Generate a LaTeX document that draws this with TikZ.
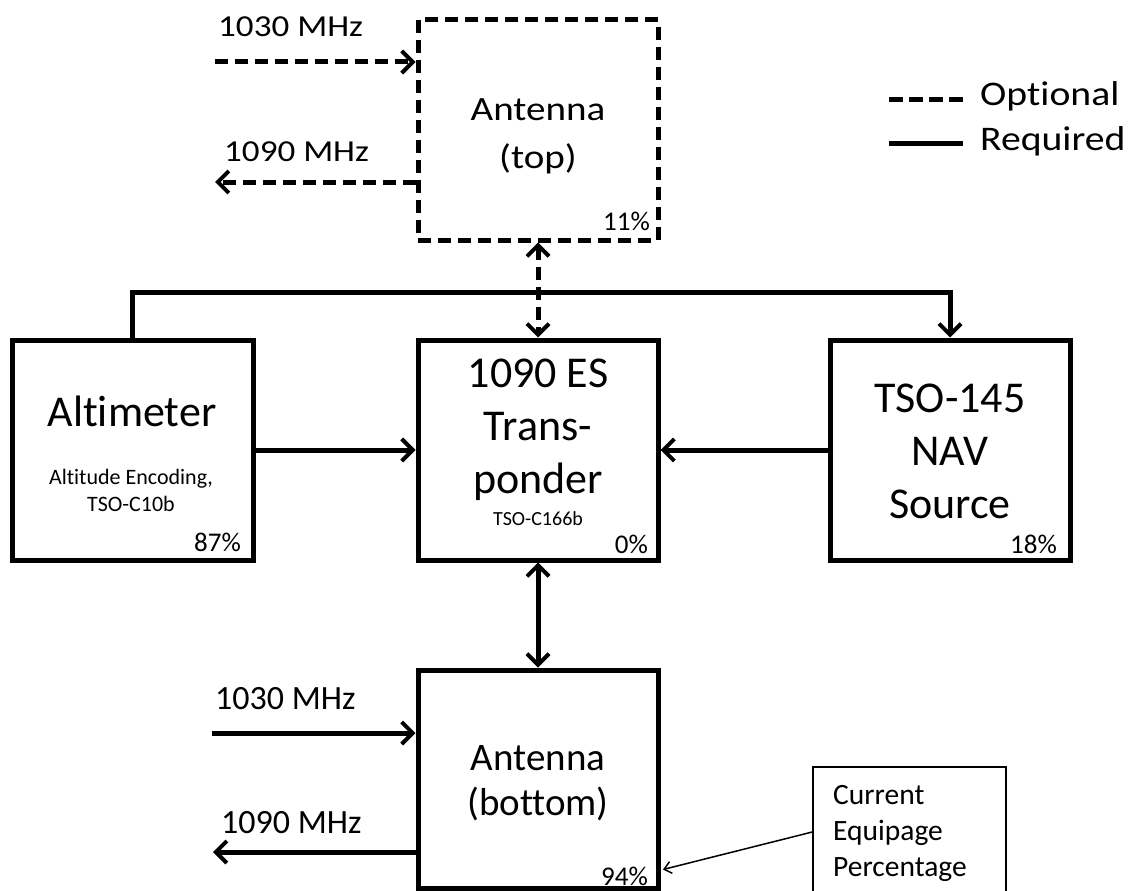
\documentclass[tikz,border=0pt]{standalone}
\usepackage{fontspec}
\setmainfont{Carlito}[Ligatures=NoCommon]
\newfontfamily\widefont[FakeStretch=1.15,Ligatures=NoCommon]{Carlito}
\usetikzlibrary{arrows.meta,calc}
\tikzset{
  barb/.tip={Straight Barb[length=11pt,width=22pt,line width=4pt]},
  smallbarb/.tip={Straight Barb[length=7pt,width=12pt,line width=1.5pt]},
  box/.style={draw, line width=5pt, minimum width=240pt, minimum height=220pt, inner sep=0pt},
  optbox/.style={box, dash pattern=on 13pt off 7pt},
  conn/.style={line width=5pt},
  opt/.style={conn, dash pattern=on 13pt off 7pt},
  big/.style={anchor=base, inner sep=0pt, font=\fontsize{44}{53}\selectfont},
  ant/.style={anchor=base, inner sep=0pt, font=\fontsize{39}{45}\selectfont},
  pct/.style={anchor=base east, inner sep=0pt, font=\fontsize{27}{32}\selectfont},
  lbl/.style={anchor=base west, inner sep=0pt, font=\fontsize{34}{40}\selectfont},
  toplbl/.style={anchor=base west, inner sep=0pt, font=\widefont\fontsize{30.5}{36}\selectfont},
  leg/.style={anchor=base west, inner sep=0pt, font=\widefont\fontsize{34.5}{40}\selectfont},
}
\begin{document}
\begin{tikzpicture}[x=1pt,y=-1pt]
\useasboundingbox (0,0) rectangle (1130,891);
\clip (0,0) rectangle (1130,891);
% boxes
\node[optbox] (antTop) at (538,130) {};
\node[box, minimum width=241pt] (alt) at (132.5,450) {};
\node[box] (xpdr) at (538,450) {};
\node[box] (tso) at (950,450) {};
\node[box, minimum height=218pt] (antBot) at (538,779) {};
\node[draw, line width=1.5pt, minimum width=193pt, minimum height=140pt, inner sep=0pt] (callout) at (909.5,837) {};
% box texts
\node[ant, font=\widefont\fontsize{34}{48}\selectfont] (antTopT) at (538,120) {\begin{tabular}[t]{@{}c@{}}Antenna\\(top)\end{tabular}};
\node[pct] (antTopP) at (650,230) {11\%};
\node[big] (altT) at (132,426) {Altimeter};
\node[anchor=base, inner sep=0pt, font=\fontsize{22}{27}\selectfont] (altS) at (131,484) {\begin{tabular}[t]{@{}c@{}}Altitude Encoding,\\TSO-C10b\end{tabular}};
\node[pct] (altP) at (241,551) {87\%};
\node[big] (xpdrT) at (538,387) {\begin{tabular}[t]{@{}c@{}}1090 ES\\Trans-\\ponder\end{tabular}};
\node[anchor=base, inner sep=0pt, font=\fontsize{20}{24}\selectfont] (xpdrS) at (538,525) {TSO-C166b};
\node[pct] (xpdrP) at (648,553) {0\%};
\node[big] (tsoT) at (950,412) {\begin{tabular}[t]{@{}c@{}}TSO-145\\NAV\\Source\end{tabular}};
\node[pct] (tsoP) at (1057,553) {18\%};
\node[ant] (antBotT) at (538,770) {\begin{tabular}[t]{@{}c@{}}Antenna\\(bottom)\end{tabular}};
\node[pct] (antBotP) at (648,885) {94\%};
\node[anchor=base west, inner sep=0pt, font=\fontsize{29.5}{36}\selectfont] (calloutT) at (833,804) {\begin{tabular}[t]{@{}l@{}}Current\\Equipage\\Percentage\end{tabular}};
% frequency labels
\node[toplbl] (f1) at (218,37) {1030 MHz};
\node[toplbl] (f2) at (224,161) {1090 MHz};
\node[lbl] (f3) at (215,709) {1030 MHz};
\node[lbl] (f4) at (221,833) {1090 MHz};
% connectors
\coordinate (in1) at (215,62);
\coordinate (out1) at (215,182);
\coordinate (in2) at (212,733);
\coordinate (out2) at (213,852);
\draw[opt,-barb] (in1) -- (in1 -| antTop.west);
\draw[opt,-barb] (out1 -| antTop.west) -- (out1);
\draw[conn,-barb] (in2) -- (in2 -| antBot.west);
\draw[conn,-barb] (out2 -| antBot.west) -- (out2);
\draw[opt,barb-barb] (antTop.south) -- (xpdr.north);
\draw[conn,barb-barb] (xpdr.south) -- (antBot.north);
\draw[conn,-barb] (alt.east) -- (xpdr.west);
\draw[conn,-barb] (tso.west) -- (xpdr.east);
\draw[conn,-barb] (alt.north) -- ++(0,-45) -| (tso.north);
\draw[line width=1.5pt,-smallbarb] ([yshift=5pt]callout.west) -- ($(antBot.south east)+(2.5,-21)$);
% legend
\coordinate (lo1) at (889,99);
\coordinate (lo2) at (963,99);
\coordinate (lr1) at (889,143);
\coordinate (lr2) at (963,143);
\draw[line width=5pt, dash pattern=on 14pt off 6pt] (lo1) -- (lo2);
\draw[conn] (lr1) -- (lr2);
\node[leg] (legO) at (980,105) {Optional};
\node[leg] (legR) at (980,150) {Required};
\end{tikzpicture}
\end{document}
